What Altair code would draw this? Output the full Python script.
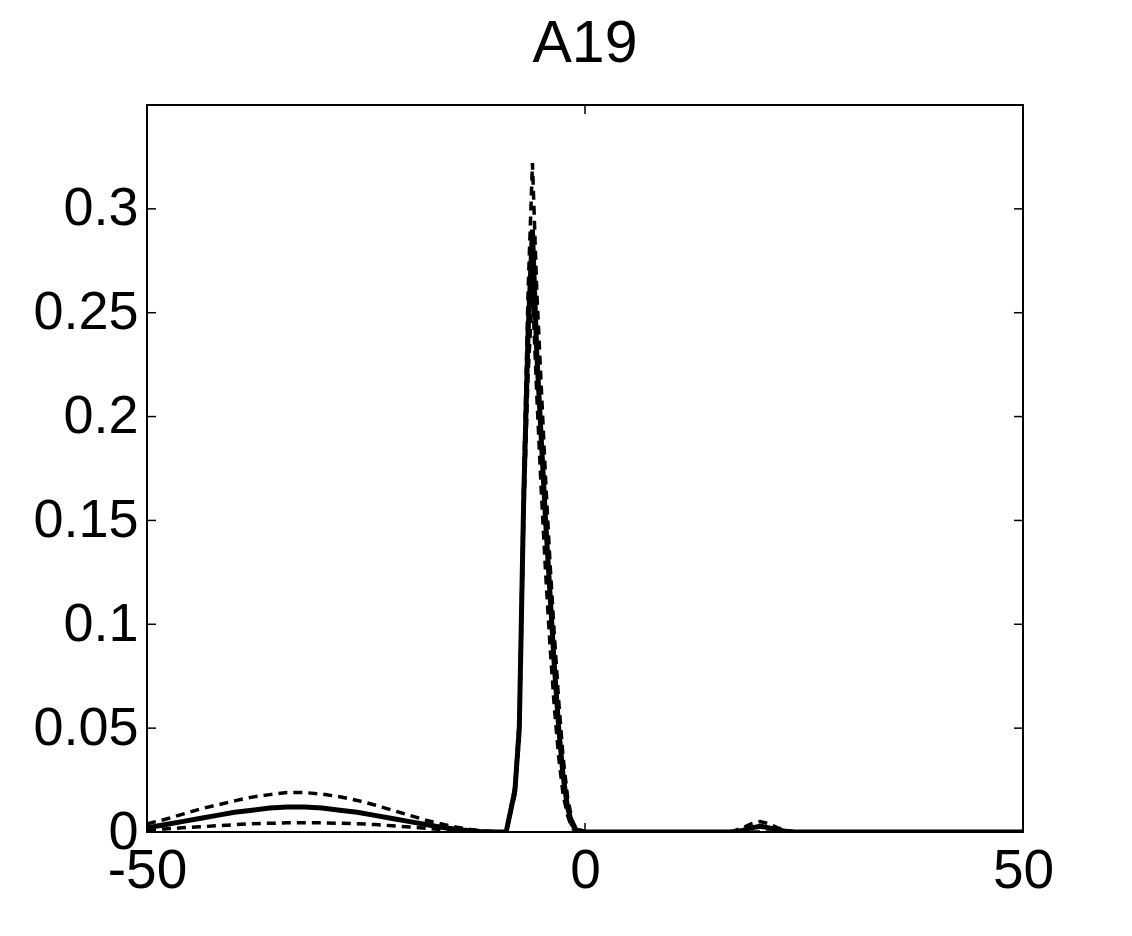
import altair as alt
import pandas as pd

# x positions (shared by the three curves)
x_vals = [-50, -48, -46, -44, -42, -40, -38, -36, -34, -32, -30, -28, -26, -24, -22, -20, -18, -16, -14, -12, -10,
          -9, -8, -7.5, -7, -6.5, -6, -5.5, -5, -4.5, -4, -3.5, -3, -2.5, -2, -1.5, -1,
          0, 5, 10, 15,
          16, 17, 18, 19, 20, 21, 22, 23, 24, 25,
          30, 40, 50]

mean_vals = [0.002, 0.0035, 0.005, 0.0065, 0.008, 0.0095, 0.0105, 0.0115, 0.012, 0.012, 0.0115, 0.0105, 0.0095, 0.008, 0.0065, 0.005, 0.0035, 0.002, 0.001, 0.0003, 0.0,
             0.0, 0.02, 0.05, 0.16, 0.24, 0.29, 0.23, 0.19, 0.15, 0.115, 0.08, 0.05, 0.027, 0.012, 0.004, 0.001,
             0.0, 0.0, 0.0, 0.0,
             0.0, 0.0, 0.0008, 0.002, 0.0028, 0.002, 0.001, 0.0003, 0.0, 0.0,
             0.0, 0.0, 0.0]

upper_vals = [0.004, 0.006, 0.0085, 0.011, 0.013, 0.015, 0.0168, 0.018, 0.019, 0.019, 0.0182, 0.017, 0.0152, 0.013, 0.0105, 0.008, 0.0055, 0.0035, 0.0018, 0.0006, 0.0,
              0.0, 0.022, 0.055, 0.17, 0.26, 0.322, 0.26, 0.215, 0.17, 0.13, 0.095, 0.063, 0.036, 0.017, 0.006, 0.0015,
              0.0, 0.0, 0.0, 0.0,
              0.0, 0.0005, 0.002, 0.004, 0.005, 0.004, 0.002, 0.0008, 0.0, 0.0,
              0.0, 0.0, 0.0]

lower_vals = [0.001, 0.0015, 0.002, 0.0025, 0.003, 0.0035, 0.004, 0.0042, 0.0044, 0.0045, 0.0044, 0.0042, 0.004, 0.0036, 0.003, 0.0024, 0.0018, 0.001, 0.0005, 0.0002, 0.0,
              0.0, 0.018, 0.045, 0.15, 0.22, 0.26, 0.21, 0.165, 0.125, 0.09, 0.06, 0.036, 0.018, 0.008, 0.002, 0.0,
              0.0, 0.0, 0.0, 0.0,
              0.0, 0.0, 0.0, 0.0, 0.0, 0.0, 0.0, 0.0, 0.0, 0.0,
              0.0, 0.0, 0.0]

x_ticks = [-50, 0, 50]
y_ticks = [0, 0.05, 0.1, 0.15, 0.2, 0.25, 0.3]
title_text = ["A19"]

W, H = 876, 727
FONT = "Liberation Sans"

df = pd.DataFrame({"x": x_vals, "mean": mean_vals, "upper": upper_vals, "lower": lower_vals})

xs = alt.Scale(domain=[-50, 50], nice=False, zero=False)
ys = alt.Scale(domain=[0, 0.35], nice=False, zero=False)

x_axis = alt.Axis(values=x_ticks, ticks=False, domain=False, grid=False, labelFontSize=55,
                  labelFont=FONT, labelColor="black", labelPadding=12, labelFlush=False, title=None,
                  labelExpr="'' + datum.value")
y_axis = alt.Axis(values=y_ticks, ticks=False, domain=False, grid=False, labelFontSize=54,
                  labelFont=FONT, labelColor="black", labelPadding=9, title=None, format="~g")

base = alt.Chart(df)

upper = base.mark_line(color="black", strokeWidth=3.5, strokeDash=[9, 6], clip=True).encode(
    x=alt.X("x:Q", scale=xs, axis=x_axis), y=alt.Y("upper:Q", scale=ys, axis=y_axis))
lower = base.mark_line(color="black", strokeWidth=3.5, strokeDash=[9, 6], clip=True).encode(
    x=alt.X("x:Q", scale=xs), y=alt.Y("lower:Q", scale=ys))
mean = base.mark_line(color="black", strokeWidth=5, clip=True).encode(
    x=alt.X("x:Q", scale=xs), y=alt.Y("mean:Q", scale=ys))

ydf = pd.DataFrame({"t": y_ticks})
xdf = pd.DataFrame({"t": x_ticks})

yt_left = alt.Chart(ydf).mark_rule(color="black", strokeWidth=1.5).encode(
    y=alt.Y("t:Q", scale=ys), x=alt.value(0), x2=alt.value(9))
yt_right = alt.Chart(ydf).mark_rule(color="black", strokeWidth=1.5).encode(
    y=alt.Y("t:Q", scale=ys), x=alt.value(W - 9), x2=alt.value(W))
xt_bot = alt.Chart(xdf).mark_rule(color="black", strokeWidth=1.5).encode(
    x=alt.X("t:Q", scale=xs), y=alt.value(H - 9), y2=alt.value(H))
xt_top = alt.Chart(xdf).mark_rule(color="black", strokeWidth=1.5).encode(
    x=alt.X("t:Q", scale=xs), y=alt.value(0), y2=alt.value(9))

title = alt.Chart(pd.DataFrame({"t": title_text})).mark_text(
    font=FONT, fontSize=59, color="black", align="center", baseline="alphabetic", clip=False
).encode(text="t:N", x=alt.value(W / 2), y=alt.value(-43))

chart = alt.layer(upper, lower, mean, yt_left, yt_right, xt_bot, xt_top, title).properties(
    width=W, height=H,
    autosize=alt.AutoSizeParams(type="none"),
    padding={"left": 139, "top": 97, "right": 101, "bottom": 96},
).configure(background="white").configure_view(stroke="black", strokeWidth=2)

chart.save("out.html", embed_options={"renderer": "svg", "actions": False})
